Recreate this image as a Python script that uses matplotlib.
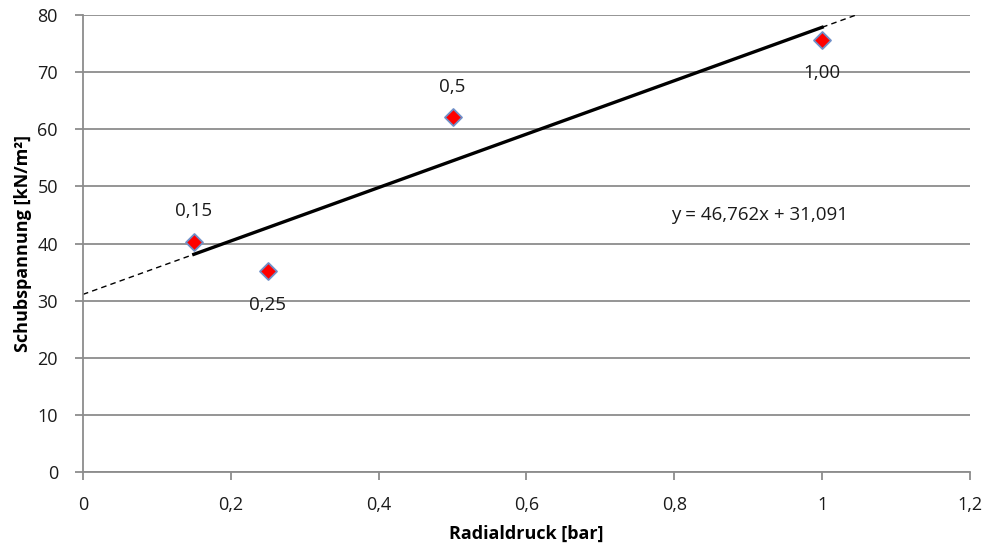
import matplotlib.pyplot as plt
from matplotlib.ticker import FuncFormatter

plt.rcParams['font.family'] = ['Open Sans', 'DejaVu Sans']

radialdruck = [0.15, 0.25, 0.5, 1.0]
schub = [40.3, 35.1, 62.1, 75.6]
point_labels = ['0,15', '0,25', '0,5', '1,00']
label_above = [True, False, True, False]

slope = 46.762
intercept = 31.091
trend_text = 'y = 46,762x + 31,091'

x_ticks = [0, 0.2, 0.4, 0.6, 0.8, 1.0, 1.2]
y_ticks = [0, 10, 20, 30, 40, 50, 60, 70, 80]

grey = '#8c8c8c'


def comma(v, pos=None):
    s = ('%g' % v).replace('.', ',')
    return s


fig = plt.figure(figsize=(9.9, 5.48), dpi=100)
ax = fig.add_axes([0.0838, 0.1387, 0.896, 0.8339])

ax.set_xlim(0, 1.2)
ax.set_ylim(0, 80)
ax.set_xticks(x_ticks)
ax.set_yticks(y_ticks)
ax.xaxis.set_major_formatter(FuncFormatter(comma))
ax.yaxis.set_major_formatter(FuncFormatter(comma))

ax.grid(axis='y', color=grey, linewidth=1.3)
ax.set_axisbelow(True)
for side in ['top', 'right']:
    ax.spines[side].set_visible(False)
for side in ['left', 'bottom']:
    ax.spines[side].set_color(grey)
    ax.spines[side].set_linewidth(1.3)
ax.tick_params(axis='both', colors=grey, length=6, width=1.3, labelsize=13,
               labelcolor='#1a1a1a')
ax.tick_params(axis='x', pad=11)
ax.tick_params(axis='y', pad=12)

# trend line: solid over data range, dashed forecast to axis limits
x_lo, x_hi = min(radialdruck), max(radialdruck)
x_end = (80 - intercept) / slope
ax.plot([0, x_lo], [intercept, intercept + slope * x_lo], color='black', lw=1, ls=(0, (4, 3)))
ax.plot([x_hi, x_end], [intercept + slope * x_hi, 80], color='black', lw=1, ls=(0, (4, 3)))
ax.plot([x_lo, x_hi], [intercept + slope * x_lo, intercept + slope * x_hi], color='black', lw=2.4)

ax.scatter(radialdruck, schub, marker='D', s=75, color='#ff0000', edgecolors='#6f8fc8',
           linewidths=1.3, zorder=5)

for x, y, t, up in zip(radialdruck, schub, point_labels, label_above):
    ax.annotate(t, (x, y), textcoords='offset points', xytext=(0, 22 if up else -24),
                ha='center', va='center', fontsize=13.5, color='#1a1a1a')

ax.text(0.915, 45, trend_text, ha='center', va='center', fontsize=13.5, color='#1a1a1a')

ax.set_xlabel('Radialdruck [bar]', fontsize=13, fontweight='bold', labelpad=8)
ax.set_ylabel('Schubspannung [kN/m²]', fontsize=13, fontweight='bold', labelpad=4)

fig.savefig('out.png', dpi=100)
